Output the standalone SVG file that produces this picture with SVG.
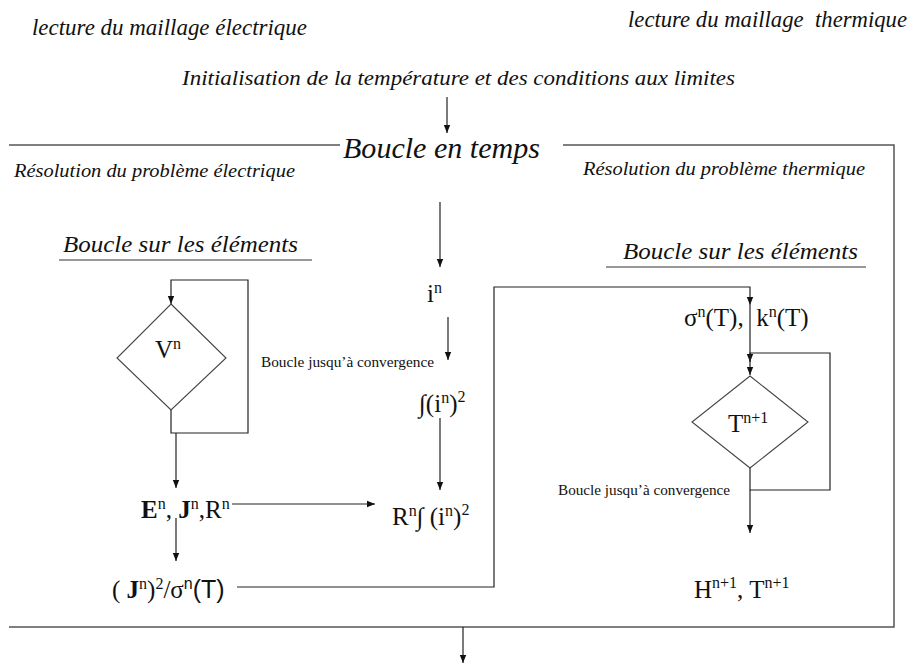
<svg xmlns="http://www.w3.org/2000/svg" width="913" height="666" viewBox="0 0 913 666">
<style>
.it{font-family:"Liberation Serif","Times New Roman","DejaVu Serif",serif;font-style:italic;fill:#111}
.m{font-family:"Liberation Serif","Times New Roman","DejaVu Serif",serif;font-size:25px;fill:#111}
.s{font-family:"Liberation Sans",Arial,sans-serif}
.sup{font-size:16px}
.sm{font-family:"Liberation Serif","Times New Roman","DejaVu Serif",serif;font-size:14px;fill:#111}
.ln{fill:none;stroke:#222;stroke-width:1.2}
.fr{fill:none;stroke:#555;stroke-width:1.5}
.dm{fill:#fff;stroke:#444;stroke-width:1.1}
</style>
<defs>
<marker id="ah" viewBox="0 0 10 10" refX="10" refY="5" markerWidth="8" markerHeight="8" markerUnits="userSpaceOnUse" orient="auto">
<path d="M0,1 L10,5 L0,9 z" fill="#111"/>
</marker>
</defs>
<rect width="913" height="666" fill="#fff"/>

<g id="labels">
<text class="it" x="32" y="35" font-size="23" textLength="275" lengthAdjust="spacingAndGlyphs">lecture du maillage électrique</text>
<text class="it" x="628" y="27" font-size="23" textLength="279" lengthAdjust="spacingAndGlyphs" xml:space="preserve">lecture du maillage  thermique</text>
<text class="it" x="182" y="85" font-size="22" textLength="553" lengthAdjust="spacingAndGlyphs">Initialisation de la température et des conditions aux limites</text>
<text class="it" x="343" y="158" font-size="30" textLength="197" lengthAdjust="spacingAndGlyphs">Boucle en temps</text>
<text class="it" x="14" y="177" font-size="18" textLength="281" lengthAdjust="spacingAndGlyphs">Résolution du problème électrique</text>
<text class="it" x="583" y="175" font-size="18" textLength="282" lengthAdjust="spacingAndGlyphs">Résolution du problème thermique</text>
<text class="it" x="63" y="252" font-size="23" textLength="235" lengthAdjust="spacingAndGlyphs">Boucle sur les éléments</text>
<line x1="59" y1="260" x2="312" y2="260" stroke="#333" stroke-width="1.2"/>
<text class="it" x="623" y="259" font-size="23" textLength="235" lengthAdjust="spacingAndGlyphs">Boucle sur les éléments</text>
<line x1="606" y1="267" x2="866" y2="267" stroke="#333" stroke-width="1.2"/>
<text class="sm" x="261" y="367" textLength="173" lengthAdjust="spacingAndGlyphs">Boucle jusqu’à convergence</text>
<text class="sm" x="558" y="495" textLength="172" lengthAdjust="spacingAndGlyphs">Boucle jusqu’à convergence</text>
</g>

<g id="frame">
<path class="fr" d="M340,145 H9"/>
<path class="fr" d="M563,145 H894 V627 H9"/>
</g>

<g id="connectors">
<line class="ln" x1="447" y1="97" x2="447" y2="133" marker-end="url(#ah)"/>
<line class="ln" x1="440" y1="202" x2="440" y2="267" marker-end="url(#ah)"/>
<line class="ln" x1="448" y1="317" x2="448" y2="360" marker-end="url(#ah)"/>
<line class="ln" x1="440" y1="418" x2="440" y2="490" marker-end="url(#ah)"/>
<path class="ln" d="M171,410 V433 H248 V280 H171 V304" marker-end="url(#ah)"/>
<line class="ln" x1="176" y1="433" x2="176" y2="488" marker-end="url(#ah)"/>
<line class="ln" x1="176" y1="518" x2="176" y2="561" marker-end="url(#ah)"/>
<line class="ln" x1="232" y1="504" x2="375" y2="504" marker-end="url(#ah)"/>
<path class="ln" d="M237,587 H494 V287 H750 V305" marker-end="url(#ah)"/>
<line class="ln" x1="750" y1="305" x2="750" y2="362" marker-end="url(#ah)"/>
<path class="ln" d="M750,468 V490 H830 V353 H750 V375" marker-end="url(#ah)"/>
<line class="ln" x1="750" y1="490" x2="750" y2="533" marker-end="url(#ah)"/>
<line class="ln" x1="463" y1="627" x2="463" y2="663" marker-end="url(#ah)"/>
</g>

<g id="node-V">
<polygon class="dm" points="171,304 226,358 171,410 117,358"/>
<text class="m" x="155" y="358">V<tspan class="sup" dy="-9">n</tspan></text>
</g>

<g id="node-T">
<polygon class="dm" points="750,376 808,422 750,468 692,422"/>
<text class="m" x="728" y="432">T<tspan class="sup" dy="-9">n+1</tspan></text>
</g>

<g id="node-in">
<text class="m" x="427" y="302">i<tspan class="sup" dy="-9">n</tspan></text>
</g>

<g id="node-int">
<text class="m" x="419" y="412">∫(i<tspan class="sup" dy="-9">n</tspan><tspan dy="9">)</tspan><tspan class="sup" dy="-10">2</tspan></text>
</g>

<g id="node-Rint">
<text class="m" x="392" y="525">R<tspan class="sup" dy="-9">n</tspan><tspan dy="9">∫ (i</tspan><tspan class="sup" dy="-9">n</tspan><tspan dy="9">)</tspan><tspan class="sup" dy="-10">2</tspan></text>
</g>

<g id="node-EJR">
<text class="m" x="141" y="518"><tspan font-weight="bold">E</tspan><tspan class="sup" dy="-9">n</tspan><tspan dy="9">, </tspan><tspan font-weight="bold">J</tspan><tspan class="sup" dy="-9">n</tspan><tspan dy="9">,R</tspan><tspan class="sup" dy="-9">n</tspan></text>
</g>

<g id="node-J2">
<text class="m" x="112" y="598">( <tspan font-weight="bold">J</tspan><tspan class="sup" dy="-9">n</tspan><tspan dy="9">)</tspan><tspan class="sup" dy="-9">2</tspan><tspan dy="9">/σ</tspan><tspan class="s sup" dy="-9">n</tspan><tspan class="s" dy="9">(T)</tspan></text>
</g>

<g id="node-sigk">
<text class="m" x="684" y="326" xml:space="preserve">σ<tspan class="sup" dy="-9">n</tspan><tspan dy="9">(T),  k</tspan><tspan class="sup" dy="-9">n</tspan><tspan dy="9">(T)</tspan></text>
</g>

<g id="node-HT">
<text class="m" x="694" y="598">H<tspan class="sup" dy="-10">n+1</tspan><tspan dy="10">, T</tspan><tspan class="sup" dy="-10">n+1</tspan></text>
</g>
</svg>
